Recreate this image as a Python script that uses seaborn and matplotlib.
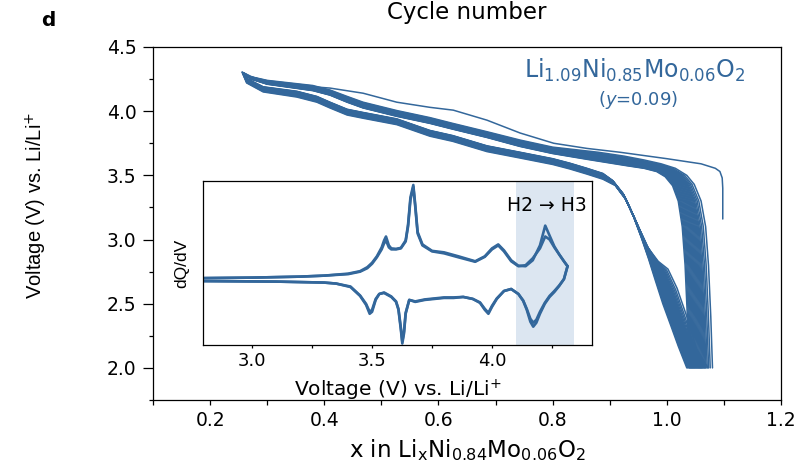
import numpy as np
import pandas as pd
import matplotlib
matplotlib.use("Agg")
import matplotlib.pyplot as plt
import seaborn as sns

# ---------------- data ----------------
# main panel: galvanostatic curves, x in LixNi0.84Mo0.06O2 vs voltage
# first charge (thin isolated line)
first_chg_x = [1.098, 1.098, 1.097, 1.093, 1.085, 1.060, 1.000, 0.918, 0.860, 0.802,
               0.743, 0.685, 0.626, 0.585, 0.527, 0.468, 0.410, 0.352, 0.300, 0.272, 0.258]
first_chg_v = [3.16, 3.40, 3.48, 3.53, 3.555, 3.59, 3.63, 3.68, 3.71, 3.75,
               3.83, 3.93, 4.008, 4.03, 4.07, 4.14, 4.18, 4.20, 4.225, 4.27, 4.30]

# later charge curves: inner (A) and outer (B) edges of the bundle
chg_a_x = [1.040, 1.036, 1.032, 1.027, 1.020, 1.010, 0.997, 0.982, 0.960, 0.930, 0.895, 0.860, 0.800,
           0.743, 0.685, 0.625, 0.585, 0.527, 0.468, 0.440, 0.410, 0.380, 0.340, 0.300, 0.272, 0.260]
chg_a_v = [2.00, 2.40, 2.80, 3.10, 3.30, 3.42, 3.49, 3.53, 3.555, 3.575, 3.60, 3.625, 3.67,
           3.725, 3.795, 3.86, 3.905, 3.96, 4.025, 4.07, 4.125, 4.16, 4.185, 4.21, 4.25, 4.285]
chg_b_x = [1.080, 1.077, 1.073, 1.068, 1.060, 1.048, 1.035, 1.015, 0.990, 0.960, 0.925, 0.880, 0.800,
           0.743, 0.685, 0.625, 0.585, 0.527, 0.468, 0.440, 0.410, 0.380, 0.340, 0.300, 0.270, 0.256]
chg_b_v = [2.00, 2.40, 2.80, 3.10, 3.30, 3.43, 3.50, 3.555, 3.59, 3.62, 3.65, 3.68, 3.72,
           3.775, 3.84, 3.905, 3.95, 4.005, 4.07, 4.115, 4.165, 4.20, 4.22, 4.24, 4.27, 4.305]

# discharge curves: edges A and B of the bundle
dch_a_x = [0.260, 0.266, 0.293, 0.352, 0.387, 0.410, 0.440, 0.468, 0.527, 0.585, 0.625, 0.685, 0.743, 0.800,
           0.830, 0.860, 0.888, 0.905, 0.923, 0.940, 0.955, 0.968, 0.980, 0.993, 1.007, 1.020, 1.035]
dch_a_v = [4.285, 4.25, 4.19, 4.155, 4.115, 4.07, 4.015, 3.99, 3.94, 3.85, 3.81, 3.73, 3.68, 3.63,
           3.595, 3.555, 3.515, 3.46, 3.36, 3.20, 3.02, 2.85, 2.68, 2.50, 2.33, 2.17, 2.00]
dch_b_x = [0.256, 0.264, 0.293, 0.352, 0.387, 0.410, 0.440, 0.468, 0.527, 0.585, 0.625, 0.685, 0.743, 0.800,
           0.830, 0.860, 0.888, 0.910, 0.930, 0.950, 0.968, 0.985, 1.002, 1.018, 1.035, 1.052, 1.072]
dch_b_v = [4.305, 4.22, 4.15, 4.11, 4.07, 4.025, 3.97, 3.945, 3.895, 3.805, 3.765, 3.685, 3.635, 3.585,
           3.55, 3.51, 3.47, 3.42, 3.30, 3.10, 2.93, 2.83, 2.77, 2.62, 2.40, 2.15, 2.00]

# position of each cycle inside the bundle (0 = edge A, 1 = edge B)
cycle_spread = [0.0, 0.04, 0.08, 0.12, 0.16, 0.20, 0.24, 0.28, 0.32, 0.36, 0.40, 0.44,
                0.48, 0.52, 0.56, 0.60, 0.64, 0.68, 0.72, 0.77, 0.83, 0.90, 1.0]

# inset: dQ/dV vs voltage (arbitrary units)
ins_chg_v = [2.80, 3.00, 3.20, 3.30, 3.40, 3.45, 3.48, 3.50, 3.52, 3.54, 3.55, 3.558, 3.57, 3.58,
             3.60, 3.62, 3.64, 3.65, 3.66, 3.672, 3.68, 3.69, 3.71, 3.75, 3.80, 3.86, 3.93, 3.97,
             4.00, 4.026, 4.05, 4.08, 4.11, 4.14, 4.17, 4.20, 4.222, 4.24, 4.26, 4.28, 4.30, 4.315]
ins_chg_first = [0.02, 0.03, 0.05, 0.07, 0.11, 0.16, 0.24, 0.33, 0.46, 0.64, 0.78, 0.86, 0.68, 0.62,
                 0.61, 0.63, 0.78, 1.10, 1.65, 1.90, 1.50, 0.95, 0.70, 0.57, 0.54, 0.46, 0.36, 0.46,
                 0.62, 0.70, 0.58, 0.38, 0.27, 0.26, 0.38, 0.68, 1.08, 0.88, 0.66, 0.50, 0.36, 0.26]
ins_chg_last = [0.02, 0.03, 0.05, 0.07, 0.10, 0.15, 0.22, 0.31, 0.44, 0.60, 0.72, 0.78, 0.64, 0.60,
                0.60, 0.62, 0.76, 1.06, 1.60, 1.86, 1.46, 0.92, 0.68, 0.56, 0.52, 0.44, 0.35, 0.45,
                0.60, 0.68, 0.56, 0.36, 0.26, 0.28, 0.42, 0.62, 0.86, 0.80, 0.64, 0.50, 0.36, 0.26]
ins_dch_v = [4.315, 4.30, 4.28, 4.26, 4.24, 4.22, 4.20, 4.185, 4.172, 4.16, 4.145, 4.13, 4.11, 4.08,
             4.05, 4.02, 4.00, 3.985, 3.97, 3.95, 3.92, 3.88, 3.84, 3.80, 3.76, 3.72, 3.68, 3.655,
             3.64, 3.633, 3.626, 3.62, 3.61, 3.60, 3.58, 3.55, 3.53, 3.515, 3.50, 3.49, 3.475, 3.45,
             3.41, 3.35, 3.30, 3.10, 2.80]
ins_dch_first = [0.26, 0.00, -0.14, -0.26, -0.36, -0.50, -0.70, -0.88, -0.96, -0.86, -0.62, -0.44, -0.30, -0.20,
                 -0.24, -0.40, -0.56, -0.70, -0.62, -0.48, -0.40, -0.36, -0.38, -0.38, -0.40, -0.42, -0.46, -0.42,
                 -0.70, -1.10, -1.30, -1.02, -0.62, -0.46, -0.36, -0.28, -0.30, -0.42, -0.66, -0.70, -0.52, -0.34,
                 -0.16, -0.09, -0.07, -0.05, -0.04]
ins_dch_last = [0.26, 0.00, -0.13, -0.24, -0.34, -0.48, -0.66, -0.82, -0.88, -0.80, -0.60, -0.43, -0.30, -0.20,
                -0.24, -0.39, -0.54, -0.68, -0.60, -0.47, -0.40, -0.36, -0.37, -0.37, -0.39, -0.41, -0.45, -0.42,
                -0.68, -1.06, -1.26, -0.98, -0.60, -0.45, -0.35, -0.27, -0.30, -0.40, -0.62, -0.66, -0.50, -0.33,
                -0.15, -0.09, -0.07, -0.05, -0.04]

x_ticks = [0.2, 0.4, 0.6, 0.8, 1.0, 1.2]
x_ticklabels = ["0.2", "0.4", "0.6", "0.8", "1.0", "1.2"]
x_minor = [0.1, 0.3, 0.5, 0.7, 0.9, 1.1]
y_ticks = [2.0, 2.5, 3.0, 3.5, 4.0, 4.5]
y_ticklabels = ["2.0", "2.5", "3.0", "3.5", "4.0", "4.5"]
y_minor = [1.75, 2.25, 2.75, 3.25, 3.75, 4.25]
ins_ticks = [3.0, 3.5, 4.0]
ins_ticklabels = ["3.0", "3.5", "4.0"]
ins_minor = [3.25, 3.75, 4.25]
h2h3_window = [4.10, 4.34]

# ---------------- style ----------------
sns.set_theme(style="ticks")
plt.rcParams["font.family"] = ["DejaVu Sans"]
plt.rcParams["mathtext.fontset"] = "dejavusans"
plt.rcParams["axes.linewidth"] = 0.9
plt.rcParams["axes.edgecolor"] = "black"
plt.rcParams["text.color"] = "black"
plt.rcParams["axes.labelcolor"] = "black"
plt.rcParams["xtick.color"] = "black"
plt.rcParams["ytick.color"] = "black"
BLUE = "#33679b"
ARIAL = ["Liberation Sans", "DejaVu Sans"]

W, H = 799, 462
fig = plt.figure(figsize=(W / 100, H / 100), dpi=100)
ax = fig.add_axes([153 / W, 1 - 400 / H, 628 / W, 353 / H])

# build long table for the cycle curves
rows = []
xa_c, va_c = np.array(chg_a_x), np.array(chg_a_v)
xb_c, vb_c = np.array(chg_b_x), np.array(chg_b_v)
xa_d, va_d = np.array(dch_a_x), np.array(dch_a_v)
xb_d, vb_d = np.array(dch_b_x), np.array(dch_b_v)
for k, w in enumerate(cycle_spread):
    cx = xa_c + w * (xb_c - xa_c)
    cv = va_c + w * (vb_c - va_c)
    dx = xa_d + w * (xb_d - xa_d)
    dv = va_d + w * (vb_d - va_d)
    for x_, v_ in zip(np.concatenate([cx, dx]), np.concatenate([cv, dv])):
        rows.append({"x": x_, "V": v_, "curve": k})
cycles = pd.DataFrame(rows)
first = pd.DataFrame({"x": first_chg_x, "V": first_chg_v, "curve": -1})

sns.lineplot(data=cycles, x="x", y="V", units="curve", estimator=None, sort=False,
             color=BLUE, lw=1.1, ax=ax, legend=False)
sns.lineplot(data=first, x="x", y="V", estimator=None, sort=False,
             color=BLUE, lw=1.1, ax=ax, legend=False)

ax.set_xlim(0.1, 1.2)
ax.set_ylim(1.75, 4.5)
ax.set_xticks(x_ticks)
ax.set_xticklabels(x_ticklabels)
ax.set_xticks(x_minor, minor=True)
ax.set_yticks(y_ticks)
ax.set_yticklabels(y_ticklabels)
ax.set_yticks(y_minor, minor=True)
ax.tick_params(axis="x", which="both", direction="out", length=3.6, width=0.9,
               labelsize=13.5, pad=4, colors="black")
ax.tick_params(axis="y", which="major", direction="out", length=7, width=0.9,
               labelsize=13.5, pad=5, colors="black")
ax.tick_params(axis="y", which="minor", direction="out", length=3, width=0.9)
for s in ax.spines.values():
    s.set_visible(True)
    s.set_color("black")

ax.set_xlabel(r"x in Li$_{\mathregular{x}}$Ni$_{0.84}$Mo$_{0.06}$O$_{2}$", fontsize=16.5)
ax.xaxis.set_label_coords(0.5, -0.105)
ax.set_ylabel(r"Voltage (V) vs. Li/Li$^{+}$", fontsize=14.5, family=ARIAL)
ax.yaxis.set_label_coords(-0.165, 0.55)

ax.text(0.944, 4.32, r"Li$_{1.09}$Ni$_{0.85}$Mo$_{0.06}$O$_{2}$", color=BLUE,
        fontsize=17, ha="center", va="center")
ax.text(0.949, 4.09, r"($y$=0.09)", color=BLUE, fontsize=13, ha="center", va="center")

fig.text(467 / W, 1 - 13 / H, "Cycle number", fontsize=16.5, ha="center", va="center")
fig.text(48 / W, 1 - 20 / H, "d", fontsize=14.5, fontweight="bold", ha="center", va="center")

# ---------------- inset ----------------
ins = fig.add_axes([203 / W, 1 - 345 / H, 389 / W, 164 / H])
ins.set_facecolor("white")
ins.axvspan(h2h3_window[0], h2h3_window[1], color="#dce6f1", lw=0, zorder=0)

inset_rows = []
for name, vv, yy in [("chg1", ins_chg_v, ins_chg_first), ("chgN", ins_chg_v, ins_chg_last),
                     ("dch1", ins_dch_v, ins_dch_first), ("dchN", ins_dch_v, ins_dch_last)]:
    for v_, y_ in zip(vv, yy):
        inset_rows.append({"V": v_, "dQdV": y_, "curve": name})
inset_df = pd.DataFrame(inset_rows)
sns.lineplot(data=inset_df, x="V", y="dQdV", units="curve", estimator=None, sort=False,
             color=BLUE, lw=1.9, ax=ins, legend=False)

ins.set_xlim(2.795, 4.417)
ins.set_ylim(-1.33, 1.98)
ins.set_xticks(ins_ticks)
ins.set_xticklabels(ins_ticklabels)
ins.set_xticks(ins_minor, minor=True)
ins.set_yticks([])
ins.tick_params(axis="x", which="both", direction="out", length=2.4, width=0.9,
                labelsize=13, pad=3, colors="black")
for s in ins.spines.values():
    s.set_visible(True)
    s.set_color("black")
ins.set_xlabel(r"Voltage (V) vs. Li/Li$^{+}$", fontsize=14.5)
ins.xaxis.set_label_coords(0.5, -0.2)
ins.set_ylabel("dQ/dV", fontsize=12.5, family=ARIAL)
ins.yaxis.set_label_coords(-0.035, 0.5)
ins.text(4.396, 1.48, "H2 \u2192 H3", fontsize=13.5, ha="right", va="center")

fig.savefig("out.png", dpi=100)
